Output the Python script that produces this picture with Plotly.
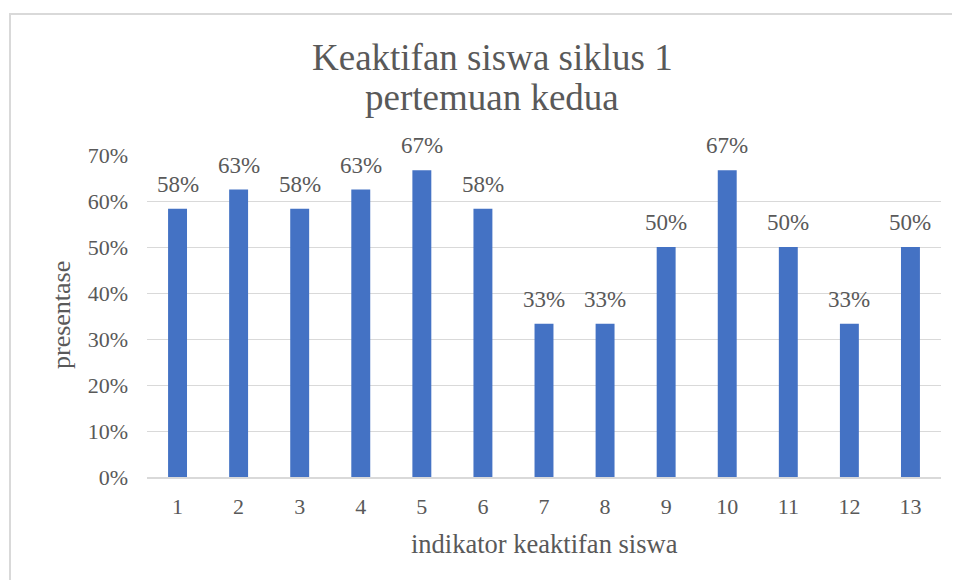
import plotly.graph_objects as go

categories = [str(i) for i in range(1, 14)]
values = [0.5833, 0.625, 0.5833, 0.625, 0.6667, 0.5833, 0.3333, 0.3333, 0.50, 0.6667, 0.50, 0.3333, 0.50]
y_ticks = [0, 0.1, 0.2, 0.3, 0.4, 0.5, 0.6, 0.7]
title_lines = ["Keaktifan siswa siklus 1", "pertemuan kedua"]
x_title = "indikator keaktifan siswa"
y_title = "presentase"

FONT = "Liberation Serif, Times New Roman, serif"
GREY = "#595959"

OFF = 8  # page offset of the figure (body margin)
# plot area in page pixel coords
PL, PR, PT, PB = 147, 941, 155, 477
L, R, T, B = PL - OFF, PR - OFF, PT - OFF, PB - OFF
W, H = R - L, B - T
def px(x):
    return (x - PL) / W
def py(y):
    return (PB - y) / H

fig = go.Figure(go.Bar(
    x=categories, y=values,
    marker=dict(color="#4472C4", line=dict(width=0)),
    hoverinfo="x+y",
))

annotations = []
for i, v in enumerate(values):
    annotations.append(dict(x=i, y=v, xref="x", yref="y", text=f"{int(v * 100 + 0.5)}%",
                            showarrow=False, yanchor="bottom", yshift=10,
                            font=dict(family=FONT, size=23, color=GREY)))
for i, line in enumerate(title_lines):
    annotations.append(dict(x=px(492), y=py(58 + 40 * i), xref="paper", yref="paper", text=line,
                            showarrow=False, xanchor="center", yanchor="middle",
                            font=dict(family=FONT, size=37, color=GREY)))
annotations.append(dict(x=0.5, y=py(544), xref="paper", yref="paper", text=x_title,
                        showarrow=False, xanchor="center", yanchor="middle",
                        font=dict(family=FONT, size=26.5, color=GREY)))
annotations.append(dict(x=px(61), y=py(315), xref="paper", yref="paper", text=y_title,
                        showarrow=False, xanchor="center", yanchor="middle", textangle=-90,
                        font=dict(family=FONT, size=26, color=GREY)))

fig.update_layout(
    width=960, height=580,
    margin=dict(l=L, r=960 - R, t=T, b=580 - B),
    paper_bgcolor="white", plot_bgcolor="white",
    bargap=0.69,
    showlegend=False,
    font=dict(family=FONT, color=GREY),
    xaxis=dict(type="category", range=[-0.5, len(categories) - 0.5], showgrid=False, showline=True,
               linecolor="#d9d9d9", linewidth=1.5,
               ticks="", tickfont=dict(family=FONT, size=22, color=GREY), ticklabelstandoff=9),
    yaxis=dict(range=[0, 0.7], tickvals=y_ticks, tickformat=".0%", showgrid=True, gridcolor="#d9d9d9",
               gridwidth=1, zeroline=False, showline=False, ticks="",
               tickfont=dict(family=FONT, size=22, color=GREY), ticklabelstandoff=18),
    annotations=annotations,
    shapes=[dict(type="rect", xref="paper", yref="paper",
                 x0=px(10), x1=1.2, y0=-0.6, y1=py(14),
                 line=dict(color="#d9d9d9", width=2), fillcolor="rgba(0,0,0,0)", layer="below")],
)

fig.write_html("out.html")
